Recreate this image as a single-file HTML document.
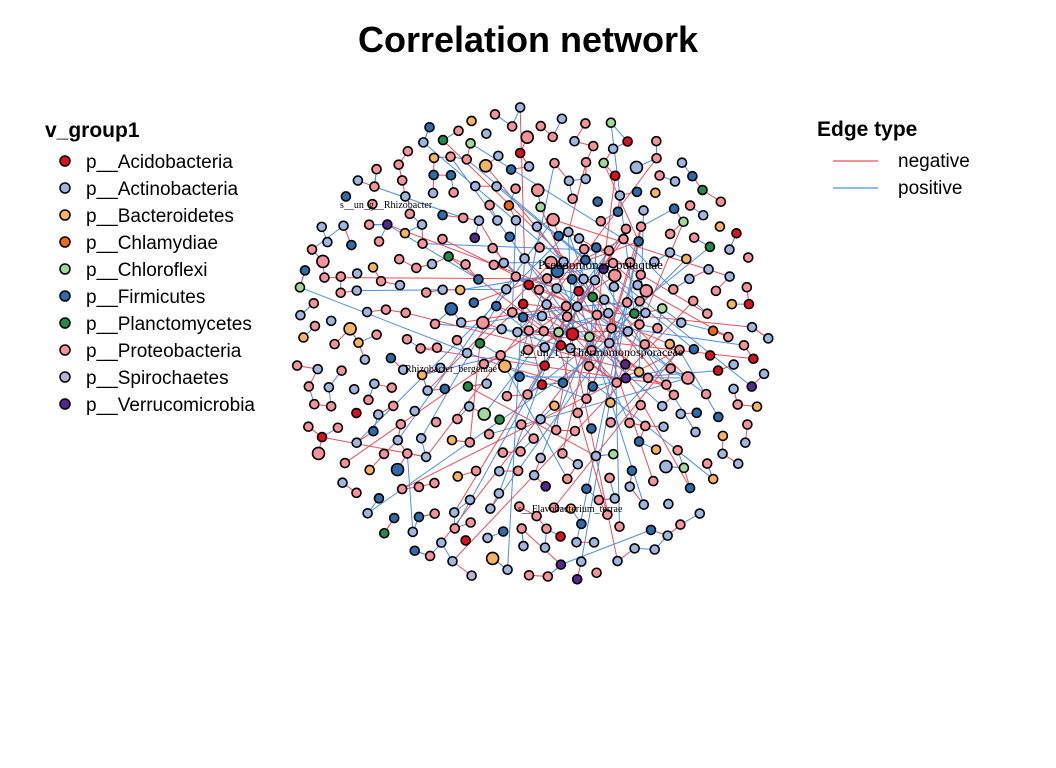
<!DOCTYPE html>
<html><head><meta charset="utf-8"><style>
body{margin:0;background:#fff;}
svg{display:block;font-family:"Liberation Sans",sans-serif;}
</style></head><body>
<svg id="s" width="1056" height="768" viewBox="0 0 1056 768" xmlns="http://www.w3.org/2000/svg">
<rect width="1056" height="768" fill="#fff"/>
<text x="528" y="52" text-anchor="middle" font-size="36" font-weight="bold">Correlation network</text>
<g id="edges"></g><g id="nodes"></g>
<g font-family="Liberation Serif,serif" font-size="10">
<text x="340" y="208">s__un_g__Rhizobacter</text>
<text x="538" y="269" font-size="13">Pseudomonas_putaquae</text>
<text x="520" y="356" font-size="12">s__un_f__Thermomonosporaceae</text>
<text x="405" y="372">Rhizobacter_bergeniae</text>
<text x="518" y="512">s__Flavobacterium_terrae</text>
</g>
<text x="45" y="137" font-size="21" font-weight="bold">v_group1</text>
<g id="leg" font-size="19"></g>
<text x="817" y="136" font-size="21" font-weight="bold">Edge type</text>
<line x1="833" y1="161" x2="878" y2="161" stroke="#E8505B" stroke-width="1.3"/>
<line x1="833" y1="188" x2="878" y2="188" stroke="#4A90E2" stroke-width="1.3"/>
<text x="898" y="167" font-size="19">negative</text>
<text x="898" y="194" font-size="19">positive</text>
</svg>
<script>
var C=["#D7141E","#9FB6E0","#F7B264","#F16913","#A1D99B","#2D6BAA","#238B45","#F4939A","#BCB4D8","#54278F"];
var N=["p__Acidobacteria","p__Actinobacteria","p__Bacteroidetes","p__Chlamydiae","p__Chloroflexi","p__Firmicutes","p__Planctomycetes","p__Proteobacteria","p__Spirochaetes","p__Verrucomicrobia"];
var ns="http://www.w3.org/2000/svg";
function el(t,a,p){var e=document.createElementNS(ns,t);for(var k in a)e.setAttribute(k,a[k]);p.appendChild(e);return e;}
var leg=document.getElementById("leg");
for(var i=0;i<10;i++){var y=161+i*27;el("circle",{cx:65,cy:y,r:5,fill:C[i],stroke:"#000","stroke-width":1.5},leg);
var t=el("text",{x:86,y:y+7},leg);t.textContent=N[i];}
var seed=11;function r(){seed=(seed*16807)%2147483647;return seed/2147483647;}
var cx=530,cy=345,R=240;var P=[];
var hubs=[[590,268],[600,275],[575,282],[612,290],[522,352],[640,350],[560,320],[545,300]];
function col(){var u=r();return u<0.45?7:u<0.72?1:u<0.83?5:u<0.89?2:u<0.935?0:u<0.955?4:u<0.972?9:u<0.985?6:u<0.993?3:8;}
function ok(x,y,m){for(var k=0;k<P.length;k++){var dx=P[k][0]-x,dy=P[k][1]-y;if(dx*dx+dy*dy<m*m)return false;}return true;}
// dense core near hubs
for(var t=0;t<2000&&P.length<90;t++){var h=hubs[Math.floor(r()*hubs.length)];var x=h[0]+(r()-.5)*110,y=h[1]+(r()-.5)*100;if(ok(x,y,10))P.push([x,y,col(),r()<0.08?6:4.5]);}
for(var t=0;t<20000&&P.length<430;t++){var a=r()*6.283,d=Math.sqrt(r())*R;
var x=cx+Math.cos(a)*d,y=cy+Math.sin(a)*d;if(ok(x,y,16))P.push([x,y,col(),r()<0.05?6:4.5]);}
var E=document.getElementById("edges");
function line(a,b){el("line",{x1:a[0],y1:a[1],x2:b[0],y2:b[1],stroke:r()<0.5?"#E8505B":"#4A90E2","stroke-width":1},E);}
for(var i=0;i<P.length;i++){var p=P[i];var best=null,bd=1e9;
for(var j=0;j<P.length;j++){if(j==i)continue;var dx=P[j][0]-p[0],dy=P[j][1]-p[1],dd=dx*dx+dy*dy;if(dd<bd){bd=dd;best=P[j];}}
if(r()<0.75)line(p,best);
var dc=Math.hypot(p[0]-cx,p[1]-cy);
if(r()<0.7-dc/R*0.55){var q=P[Math.floor(r()*90)];line(p,q);}
else if(r()<0.3){var q=P[Math.floor(r()*P.length)];if(Math.hypot(q[0]-p[0],q[1]-p[1])<110)line(p,q);}}
var G=document.getElementById("nodes");
P.forEach(function(p){el("circle",{cx:p[0],cy:p[1],r:p[3],fill:C[p[2]],stroke:"#000","stroke-width":1.6},G);});
</script>
</body></html>
